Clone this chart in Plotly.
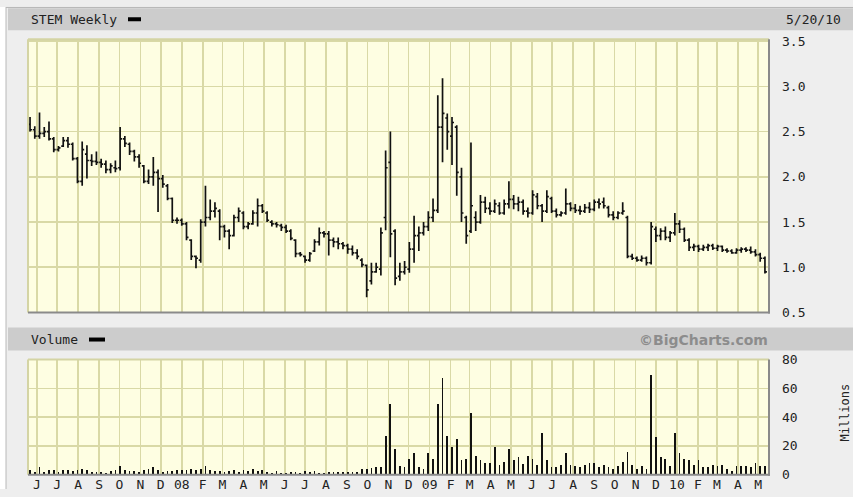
import plotly.graph_objects as go
import pandas as pd

W, H = 853, 497

# ---------------- data ----------------
first_week = "2007-05-22"
n_weeks = 156

opens = [2.58, 2.52, 2.45, 2.48, 2.50, 2.42, 2.30, 2.34, 2.40, 2.36,
         2.20, 1.95, 2.25, 2.18, 2.17, 2.16, 2.14, 2.08, 2.10, 2.10,
         2.42, 2.36, 2.28, 2.22, 2.12, 1.95, 2.00, 2.05, 1.98, 1.90,
         1.76, 1.52, 1.52, 1.48, 1.30, 1.12, 1.08, 1.50, 1.55, 1.62,
         1.62, 1.45, 1.40, 1.35, 1.55, 1.60, 1.45, 1.48, 1.60, 1.68,
         1.60, 1.50, 1.48, 1.46, 1.44, 1.40, 1.30, 1.15, 1.12, 1.08,
         1.18, 1.28, 1.38, 1.37, 1.30, 1.28, 1.26, 1.24, 1.20, 1.16,
         1.08, 1.02, 0.85, 0.95, 0.98, 1.55, 2.16, 1.40, 0.90, 0.95,
         0.98, 1.20, 1.35, 1.38, 1.45, 1.55, 1.63, 2.55, 2.65, 2.45,
         2.55, 2.00, 1.55, 1.40, 1.55, 1.50, 1.72, 1.65, 1.62, 1.68,
         1.60, 1.70, 1.75, 1.70, 1.72, 1.62, 1.60, 1.78, 1.68, 1.62,
         1.76, 1.62, 1.58, 1.60, 1.70, 1.65, 1.63, 1.62, 1.66, 1.64,
         1.72, 1.72, 1.66, 1.58, 1.55, 1.60, 1.55, 1.12, 1.10, 1.08,
         1.10, 1.05, 1.42, 1.35, 1.40, 1.33, 1.38, 1.48, 1.42, 1.30,
         1.22, 1.23, 1.20, 1.22, 1.24, 1.21, 1.23, 1.19, 1.18, 1.16,
         1.19, 1.20, 1.19, 1.17, 1.14, 1.10]

highs = [2.66, 2.56, 2.71, 2.55, 2.61, 2.44, 2.34, 2.44, 2.44, 2.38,
         2.22, 2.39, 2.35, 2.25, 2.28, 2.20, 2.18, 2.15, 2.18, 2.55,
         2.45, 2.38, 2.30, 2.25, 2.13, 2.08, 2.22, 2.08, 2.02, 1.92,
         1.77, 1.55, 1.54, 1.50, 1.31, 1.13, 1.53, 1.90, 1.75, 1.72,
         1.64, 1.47, 1.42, 1.58, 1.66, 1.62, 1.50, 1.63, 1.76, 1.70,
         1.62, 1.52, 1.50, 1.48, 1.47, 1.42, 1.31, 1.17, 1.13, 1.17,
         1.31, 1.44, 1.40, 1.40, 1.33, 1.33, 1.28, 1.26, 1.24, 1.20,
         1.10, 1.03, 1.05, 1.05, 1.44, 2.29, 2.50, 1.42, 1.05, 1.07,
         1.28, 1.57, 1.45, 1.50, 1.62, 1.76, 2.90, 3.09, 2.70, 2.66,
         2.57, 2.10, 1.57, 2.38, 1.62, 1.80, 1.78, 1.72, 1.75, 1.72,
         1.75, 1.95, 1.80, 1.78, 1.75, 1.66, 1.85, 1.82, 1.70, 1.85,
         1.78, 1.65, 1.62, 1.87, 1.72, 1.70, 1.68, 1.70, 1.72, 1.75,
         1.76, 1.77, 1.68, 1.62, 1.62, 1.72, 1.57, 1.15, 1.12, 1.13,
         1.12, 1.50, 1.45, 1.43, 1.45, 1.40, 1.60, 1.52, 1.44, 1.32,
         1.26, 1.25, 1.25, 1.26, 1.26, 1.25, 1.24, 1.21, 1.20, 1.21,
         1.22, 1.22, 1.23, 1.20, 1.16, 1.12]

lows = [2.50, 2.42, 2.42, 2.44, 2.40, 2.27, 2.28, 2.33, 2.32, 2.18,
        1.93, 1.90, 1.98, 2.12, 2.13, 2.10, 2.04, 2.04, 2.05, 2.07,
        2.33, 2.24, 2.17, 2.10, 1.93, 1.92, 1.90, 1.61, 1.88, 1.74,
        1.49, 1.48, 1.46, 1.30, 1.08, 0.99, 1.05, 1.45, 1.52, 1.55,
        1.30, 1.33, 1.20, 1.34, 1.50, 1.42, 1.42, 1.47, 1.45, 1.60,
        1.50, 1.45, 1.44, 1.40, 1.38, 1.30, 1.11, 1.12, 1.05, 1.06,
        1.17, 1.24, 1.33, 1.13, 1.22, 1.20, 1.20, 1.15, 1.13, 1.09,
        1.00, 0.67, 0.81, 0.94, 0.91, 1.41, 1.11, 0.80, 0.85, 0.92,
        0.94, 1.05, 1.18, 1.35, 1.40, 1.50, 1.60, 2.16, 2.30, 2.13,
        1.79, 1.50, 1.26, 1.38, 1.40, 1.48, 1.60, 1.58, 1.60, 1.58,
        1.58, 1.65, 1.64, 1.62, 1.58, 1.55, 1.58, 1.64, 1.50, 1.60,
        1.60, 1.55, 1.56, 1.58, 1.62, 1.60, 1.58, 1.60, 1.60, 1.62,
        1.65, 1.65, 1.55, 1.52, 1.53, 1.58, 1.10, 1.08, 1.06, 1.06,
        1.02, 1.03, 1.28, 1.30, 1.30, 1.28, 1.35, 1.38, 1.28, 1.18,
        1.18, 1.17, 1.18, 1.18, 1.19, 1.18, 1.17, 1.16, 1.15, 1.15,
        1.16, 1.17, 1.15, 1.12, 1.06, 0.93]

closes = [2.52, 2.45, 2.48, 2.50, 2.42, 2.30, 2.32, 2.40, 2.36, 2.20,
          1.95, 2.30, 2.18, 2.17, 2.16, 2.14, 2.08, 2.12, 2.09, 2.42,
          2.37, 2.28, 2.22, 2.15, 1.95, 2.00, 2.05, 1.98, 1.92, 1.76,
          1.52, 1.52, 1.48, 1.33, 1.12, 1.10, 1.50, 1.55, 1.62, 1.65,
          1.45, 1.40, 1.35, 1.55, 1.62, 1.45, 1.48, 1.60, 1.68, 1.62,
          1.52, 1.48, 1.47, 1.44, 1.40, 1.32, 1.15, 1.14, 1.08, 1.15,
          1.28, 1.38, 1.37, 1.30, 1.28, 1.26, 1.24, 1.20, 1.16, 1.12,
          1.03, 0.75, 0.95, 1.00, 1.38, 2.10, 1.37, 0.88, 0.95, 1.00,
          1.20, 1.35, 1.38, 1.45, 1.55, 1.63, 2.55, 2.70, 2.50, 2.60,
          2.05, 1.60, 1.35, 1.68, 1.50, 1.72, 1.65, 1.62, 1.70, 1.60,
          1.70, 1.75, 1.70, 1.72, 1.62, 1.60, 1.80, 1.68, 1.62, 1.78,
          1.62, 1.58, 1.60, 1.70, 1.65, 1.63, 1.62, 1.66, 1.64, 1.72,
          1.70, 1.68, 1.58, 1.55, 1.60, 1.62, 1.12, 1.10, 1.08, 1.10,
          1.05, 1.45, 1.35, 1.40, 1.33, 1.38, 1.48, 1.42, 1.30, 1.22,
          1.23, 1.20, 1.22, 1.24, 1.21, 1.23, 1.19, 1.18, 1.16, 1.19,
          1.20, 1.19, 1.17, 1.14, 1.10, 0.95]

volumes_m = [3, 2, 5, 2, 3, 3.5, 2, 3, 3, 2.5,
             3.5, 4, 3.5, 2, 1.5, 1.5, 1, 2.5, 3, 6,
             3, 2.5, 2.5, 2, 3, 4, 5, 3.5, 2, 2.5,
             2.5, 3, 3, 3.5, 4, 3, 4, 6, 3, 2.5,
             2.5, 2, 2.5, 3, 2, 3, 2.5, 4, 2.5, 3,
             1.5, 1, 2.5, 1, 0.8, 2, 2, 1, 2.5, 1.5,
             2.5, 1, 1, 2, 2, 2, 2, 2, 2, 1.5,
             4, 4, 4.5, 5, 5, 27, 49, 18, 6, 5,
             11, 15, 5, 4, 15, 11, 49, 67, 27, 19,
             25, 10, 11, 43, 13, 10, 8, 8, 19, 7,
             9, 18, 10, 12, 7.5, 13, 11, 7, 29, 10,
             5, 5, 7, 15, 7, 6, 5, 7, 8, 8,
             5, 7, 5, 4, 6, 9, 16, 7, 4, 6,
             4, 69, 26, 12, 11, 6, 29, 15, 11, 10,
             7, 10, 5, 5, 7, 6, 7, 4, 2.5, 6,
             6, 6, 5, 8, 6, 6]

month_labels = ["J", "J", "A", "S", "O", "N", "D", "08", "F", "M", "A", "M",
                "J", "J", "A", "S", "O", "N", "D", "09", "F", "M", "A", "M",
                "J", "J", "A", "S", "O", "N", "D", "10", "F", "M", "A", "M"]
price_ticks = [0.5, 1.0, 1.5, 2.0, 2.5, 3.0, 3.5]
volume_ticks = [0, 20, 40, 60, 80]

for arr in (opens, highs, lows, closes, volumes_m):
    assert len(arr) == n_weeks, len(arr)

dates = pd.date_range(first_week, periods=n_weeks, freq="7D")
month_starts = pd.date_range("2007-06-01", periods=len(month_labels), freq="MS")

# ---------------- geometry helpers ----------------
# The captured page places the figure slightly inset vertically
# (about 7.75 px down, scaled by ~0.969); positions below are given in
# target-picture pixels and converted to figure pixels.
V_OFF, V_SCALE = 7.75, 0.969

def px(x):
    return x / W

def fy(y):
    return (y - V_OFF) / V_SCALE

def py(y):
    return 1 - fy(y) / H

PL, PR = 28, 769
P_TOP, P_BOT = 40, 313
V_TOP, V_BOT = 360, 475

FONT = "DejaVu Sans Mono"
TXT = "#222222"
GRID = "#d9d9a6"
BG = "#fefee2"
FRAME_BG = "#eeeeee"

fig = go.Figure()

fig.add_trace(go.Ohlc(
    x=dates, open=opens, high=highs, low=lows, close=closes,
    increasing=dict(line=dict(color="#111111", width=1.7)),
    decreasing=dict(line=dict(color="#111111", width=1.7)),
    tickwidth=0.42, xaxis="x", yaxis="y", showlegend=False,
))

fig.add_trace(go.Bar(
    x=dates, y=volumes_m, width=2.6 * 86400000,
    marker=dict(color="#111111", line=dict(width=0)),
    xaxis="x2", yaxis="y2", showlegend=False,
))

x_range = ["2007-05-19", "2010-05-17"]

common_x = dict(
    type="date", range=x_range, tickvals=month_starts, showgrid=True,
    gridcolor=GRID, gridwidth=1.6, zeroline=False, showline=False, ticks="",
    fixedrange=True,
)

fig.update_layout(
    width=W, height=H, autosize=False,
    margin=dict(l=0, r=0, t=0, b=0),
    paper_bgcolor=FRAME_BG,
    plot_bgcolor=BG,
    xaxis=dict(common_x, domain=[px(PL), px(PR)], anchor="y",
               showticklabels=False, rangeslider=dict(visible=False)),
    yaxis=dict(domain=[py(P_BOT), py(P_TOP)], range=[0.5, 3.52], side="right",
               tickvals=price_ticks, ticktext=[f"{v:.1f}" for v in price_ticks],
               showgrid=True, gridcolor=GRID, gridwidth=1.6, zeroline=False,
               ticks="", ticklabelstandoff=12, fixedrange=True,
               tickfont=dict(family=FONT, size=13, color=TXT), anchor="x"),
    xaxis2=dict(common_x, domain=[px(PL), px(PR)], anchor="y2",
                ticktext=month_labels, showticklabels=True,
                ticklabelstandoff=0,
                tickfont=dict(family=FONT, size=13, color=TXT)),
    yaxis2=dict(domain=[py(V_BOT), py(V_TOP)], range=[0, 80], side="right",
                tickvals=volume_ticks, showgrid=True, gridcolor=GRID,
                gridwidth=1.6, zeroline=False, ticks="", ticklabelstandoff=12,
                fixedrange=True,
                tickfont=dict(family=FONT, size=13, color=TXT), anchor="x2"),
    bargap=0,
)

shapes = []
# white page strip left of the grey frame, frame border lines
shapes.append(dict(type="rect", xref="paper", yref="paper", layer="below",
                   x0=0, x1=px(6), y0=0, y1=1,
                   fillcolor="#ffffff", line=dict(width=0)))
shapes.append(dict(type="line", xref="paper", yref="paper", layer="below",
                   x0=px(6), x1=1, y0=0.999, y1=0.999,
                   line=dict(color="#b8b8b8", width=1)))
shapes.append(dict(type="line", xref="paper", yref="paper", layer="below",
                   x0=px(6), x1=px(6), y0=0, y1=1,
                   line=dict(color="#b8b8b8", width=1)))
# header bars
for y0, y1 in [(9, 31), (328, 351)]:
    shapes.append(dict(type="rect", xref="paper", yref="paper", layer="below",
                       x0=px(8), x1=1, y0=py(y1), y1=py(y0),
                       fillcolor="#cccccc", line=dict(width=0)))
# plot borders: light top/left, dark right/bottom shadow
for top, bot in [(P_TOP, P_BOT), (V_TOP, V_BOT)]:
    shapes.append(dict(type="line", xref="paper", yref="paper",
                       x0=px(PL), x1=px(PR), y0=py(top), y1=py(top),
                       line=dict(color="#d4d4a4", width=2)))
    shapes.append(dict(type="line", xref="paper", yref="paper",
                       x0=px(PL), x1=px(PL), y0=py(bot), y1=py(top),
                       line=dict(color="#d4d4a4", width=2)))
    shapes.append(dict(type="line", xref="paper", yref="paper",
                       x0=px(PR), x1=px(PR), y0=py(bot + 1), y1=py(top),
                       line=dict(color="#8a8a8a", width=2)))
    shapes.append(dict(type="line", xref="paper", yref="paper",
                       x0=px(PL), x1=px(PR + 1), y0=py(bot), y1=py(bot),
                       line=dict(color="#8a8a8a", width=2)))
# legend swatches
shapes.append(dict(type="rect", xref="paper", yref="paper",
                   x0=px(128), x1=px(141), y0=py(22), y1=py(18),
                   fillcolor="#000000", line=dict(width=0)))
shapes.append(dict(type="rect", xref="paper", yref="paper",
                   x0=px(89), x1=px(105), y0=py(342), y1=py(338),
                   fillcolor="#000000", line=dict(width=0)))
fig.update_layout(shapes=shapes)

ann = []
ann.append(dict(text="STEM Weekly", x=px(29), y=py(20.5), xref="paper", yref="paper",
                xanchor="left", yanchor="middle", showarrow=False,
                font=dict(family=FONT, size=13, color=TXT)))
ann.append(dict(text="5/20/10", x=px(843), y=py(20.5), xref="paper", yref="paper",
                xanchor="right", yanchor="middle", showarrow=False,
                font=dict(family=FONT, size=13, color=TXT)))
ann.append(dict(text="Volume", x=px(29), y=py(340), xref="paper", yref="paper",
                xanchor="left", yanchor="middle", showarrow=False,
                font=dict(family=FONT, size=13, color=TXT)))
ann.append(dict(text="<b>©BigCharts.com</b>", x=px(770), y=py(340), xref="paper",
                yref="paper", xanchor="right", yanchor="middle", showarrow=False,
                font=dict(family="DejaVu Sans", size=14, color="#8c8c8c")))
ann.append(dict(text="Millions", x=px(845), y=py(413), xref="paper", yref="paper",
                xanchor="center", yanchor="middle", showarrow=False, textangle=-90,
                font=dict(family=FONT, size=12, color=TXT)))
fig.update_layout(annotations=ann)

page_css = (
    "var de=document.documentElement, b=document.body;"
    "[de,b].forEach(function(e){e.style.margin='0';e.style.padding='0';"
    "e.style.overflow='hidden';});"
    "de.style.background='linear-gradient(to bottom,#ffffff 0px,#ffffff 8px,#eeeeee 8px,#eeeeee 100%)';"
    "b.style.background='transparent';"
)
fig.write_html(
    "out.html",
    config={"displayModeBar": False, "staticPlot": True, "responsive": False},
    post_script=page_css,
)
